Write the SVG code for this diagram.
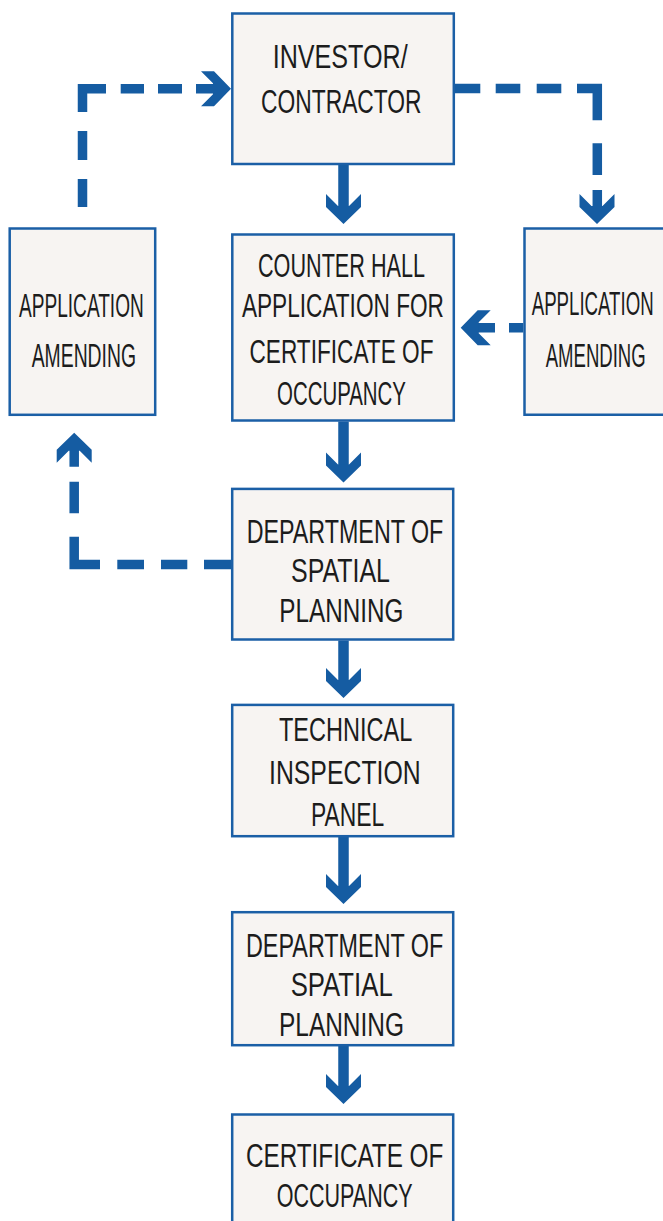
<svg xmlns="http://www.w3.org/2000/svg" width="663" height="1221" viewBox="0 0 663 1221">
<style>
.box{fill:#f7f4f2;stroke:#1b5fa6;stroke-width:2.5}
.t{font-family:"Liberation Sans",Arial,sans-serif;font-size:33px;fill:#1c1c1c}
.solid{fill:none;stroke:#155ca2;stroke-width:10.5}
.dash{fill:none;stroke:#155ca2;stroke-width:9.5;stroke-linejoin:miter}
.head{fill:#155ca2}
</style>
<defs>
<path id="ah" d="M0,0 L-17.5,-17 L-17.5,-30 L-5.5,-18 L5.5,-18 L17.5,-30 L17.5,-17 Z"/>
</defs>
<rect width="663" height="1221" fill="#ffffff"/>
<g id="connectors">
<path class="solid" d="M343.5,165 V207 M343.5,421.5 V466 M343.5,640.5 V681 M343.5,837 V887 M343.5,1046 V1087"/>
<use href="#ah" class="head" transform="translate(343.5,224)"/>
<use href="#ah" class="head" transform="translate(343.5,482.5)"/>
<use href="#ah" class="head" transform="translate(343.5,698)"/>
<use href="#ah" class="head" transform="translate(343.5,904)"/>
<use href="#ah" class="head" transform="translate(343.5,1104)"/>
<path class="dash" d="M82.5,207 V179 M82.5,160 V131 M82.5,112 V88.7 H106 M120.7,88.7 H144 M158,88.7 H182 M196,88.7 H214"/>
<use href="#ah" class="head" transform="translate(231,88.7) rotate(-90)"/>
<path class="dash" d="M455,88.5 H480.3 M495.7,88.5 H520.3 M536.7,88.5 H561.3 M577,88.5 H597.3 V120.3 M597.3,143.3 V175 M597.3,190 V207"/>
<use href="#ah" class="head" transform="translate(597,224)"/>
<path class="dash" d="M523.3,327.8 H509 M495,327.8 H478"/>
<use href="#ah" class="head" transform="translate(460.7,327.8) rotate(90)"/>
<path class="dash" d="M231,564.5 H204 M187.3,564.5 H161 M144,564.5 H117.3 M100,564.5 H74.2 V536.7 M74.2,513.3 V481.7 M74.2,466.7 V450"/>
<use href="#ah" class="head" transform="translate(74.2,432.7) rotate(180)"/>
</g>
<g id="n-investor">
<rect class="box" x="232.3" y="13.5" width="221.5" height="150.5"/>
<text class="t" x="272.7" y="68" textLength="135" lengthAdjust="spacingAndGlyphs">INVESTOR/</text>
<text class="t" x="261" y="113" textLength="160.6" lengthAdjust="spacingAndGlyphs">CONTRACTOR</text>
</g>
<g id="n-amend-left">
<rect class="box" x="9.7" y="228.5" width="145.5" height="186.3"/>
<text class="t" x="19" y="316.5" textLength="124.8" lengthAdjust="spacingAndGlyphs">APPLICATION</text>
<text class="t" x="31.7" y="366.5" textLength="104.3" lengthAdjust="spacingAndGlyphs">AMENDING</text>
</g>
<g id="n-amend-right">
<path class="box" d="M663,228.5 H524.5 V414.8 H663"/>
<text class="t" x="531.7" y="315" textLength="122" lengthAdjust="spacingAndGlyphs">APPLICATION</text>
<text class="t" x="545.7" y="366.7" textLength="100" lengthAdjust="spacingAndGlyphs">AMENDING</text>
</g>
<g id="n-counter">
<rect class="box" x="232.3" y="234.5" width="221.5" height="186"/>
<text class="t" x="258" y="276.5" textLength="167" lengthAdjust="spacingAndGlyphs">COUNTER HALL</text>
<text class="t" x="241.9" y="316.5" textLength="202" lengthAdjust="spacingAndGlyphs">APPLICATION FOR</text>
<text class="t" x="249.5" y="363" textLength="184" lengthAdjust="spacingAndGlyphs">CERTIFICATE OF</text>
<text class="t" x="277" y="405" textLength="129" lengthAdjust="spacingAndGlyphs">OCCUPANCY</text>
</g>
<g id="n-dept1">
<rect class="box" x="232.2" y="488.9" width="221" height="150.6"/>
<text class="t" x="246.7" y="543" textLength="196.6" lengthAdjust="spacingAndGlyphs">DEPARTMENT OF</text>
<text class="t" x="291" y="581.5" textLength="99" lengthAdjust="spacingAndGlyphs">SPATIAL</text>
<text class="t" x="279.3" y="621.5" textLength="124" lengthAdjust="spacingAndGlyphs">PLANNING</text>
</g>
<g id="n-tech">
<rect class="box" x="232.2" y="704.9" width="221" height="131.3"/>
<text class="t" x="279" y="740.5" textLength="133.3" lengthAdjust="spacingAndGlyphs">TECHNICAL</text>
<text class="t" x="269" y="783.5" textLength="151.7" lengthAdjust="spacingAndGlyphs">INSPECTION</text>
<text class="t" x="311" y="826" textLength="73.3" lengthAdjust="spacingAndGlyphs">PANEL</text>
</g>
<g id="n-dept2">
<rect class="box" x="232.2" y="912.2" width="221" height="133"/>
<text class="t" x="246" y="956.5" textLength="197.3" lengthAdjust="spacingAndGlyphs">DEPARTMENT OF</text>
<text class="t" x="290.7" y="996" textLength="102" lengthAdjust="spacingAndGlyphs">SPATIAL</text>
<text class="t" x="279" y="1036" textLength="125" lengthAdjust="spacingAndGlyphs">PLANNING</text>
</g>
<g id="n-cert">
<path class="box" d="M232.2,1221 V1114.5 H453.2 V1221"/>
<text class="t" x="246" y="1167" textLength="197.3" lengthAdjust="spacingAndGlyphs">CERTIFICATE OF</text>
<text class="t" x="276.7" y="1206.5" textLength="136" lengthAdjust="spacingAndGlyphs">OCCUPANCY</text>
</g>
</svg>
